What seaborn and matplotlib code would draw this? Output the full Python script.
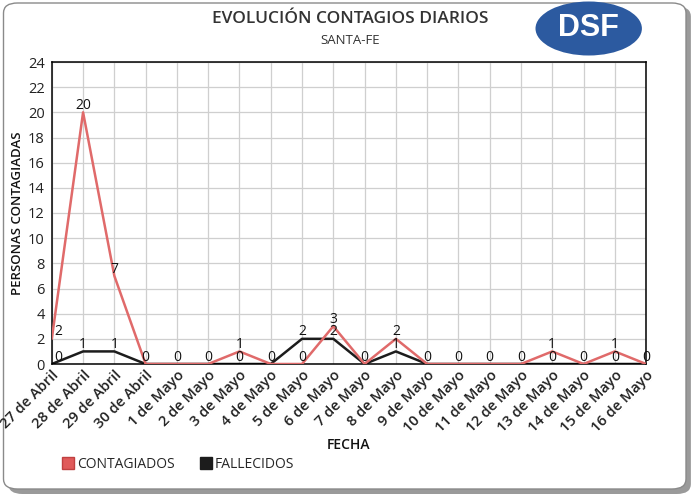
import numpy as np
import pandas as pd
import seaborn as sns
import matplotlib.pyplot as plt
from matplotlib.patches import FancyBboxPatch, Ellipse
from matplotlib.lines import Line2D

fechas = ['27 de Abril', '28 de Abril', '29 de Abril', '30 de Abril',
          '1 de Mayo', '2 de Mayo', '3 de Mayo', '4 de Mayo', '5 de Mayo',
          '6 de Mayo', '7 de Mayo', '8 de Mayo', '9 de Mayo', '10 de Mayo',
          '11 de Mayo', '12 de Mayo', '13 de Mayo', '14 de Mayo',
          '15 de Mayo', '16 de Mayo']
contagiados = [2, 20, 7, 0, 0, 0, 1, 0, 0, 3, 0, 2, 0, 0, 0, 0, 1, 0, 1, 0]
fallecidos = [0, 1, 1, 0, 0, 0, 0, 0, 2, 2, 0, 1, 0, 0, 0, 0, 0, 0, 0, 0]

sns.set_style('white')
plt.rcParams['font.family'] = ['Open Sans', 'DejaVu Sans']

pos = np.arange(len(fechas))
df = pd.DataFrame({
    'pos': np.concatenate([pos, pos]),
    'valor': contagiados + fallecidos,
    'serie': ['CONTAGIADOS'] * len(pos) + ['FALLECIDOS'] * len(pos),
})
colores = {'CONTAGIADOS': '#e06a6a', 'FALLECIDOS': '#1c1c1c'}

fig = plt.figure(figsize=(7, 5), dpi=100)
fig.patch.set_facecolor('white')

# marco con sombra
sombra = FancyBboxPatch((0.012, 0.012), 0.975, 0.975, boxstyle='round,pad=0,rounding_size=0.02',
                        transform=fig.transFigure, facecolor='#9a9a9a', edgecolor='none', zorder=-3)
marco = FancyBboxPatch((0.005, 0.022), 0.975, 0.972, boxstyle='round,pad=0,rounding_size=0.02',
                       transform=fig.transFigure, facecolor='white', edgecolor='#8a8a8a', lw=1, zorder=-2)
fig.patches.extend([sombra, marco])

ax = fig.add_axes([0.074, 0.272, 0.849, 0.604])
sns.lineplot(data=df, x='pos', y='valor', hue='serie', palette=colores, lw=1.8,
             ax=ax, legend=False)
ax.lines[0].set_zorder(3)
ax.lines[1].set_zorder(2)

# etiquetas de datos (si coinciden, se ve una sola)
for i in range(len(fechas)):
    dx = 0.2 if i == 0 else 0
    vals = [contagiados[i]]
    if fallecidos[i] != contagiados[i]:
        vals.append(fallecidos[i])
    for v in vals:
        ax.text(pos[i] + dx, v - 0.05, str(v), ha='center', va='bottom', fontsize=10,
                color='#111', zorder=4)

ax.set_xlim(0, len(fechas) - 1)
ax.set_ylim(0, 24)
ax.set_yticks(range(0, 25, 2))
ax.set_xticks(pos)
ax.set_xticklabels(fechas, rotation=45, ha='right', rotation_mode='anchor', fontsize=10.5,
                   fontweight='semibold', color='#222')
ax.tick_params(axis='y', labelsize=10.5, colors='#222', length=0, pad=5)
ax.tick_params(axis='x', length=0, pad=3)
ax.grid(True, color='#cfcfcf', lw=0.9)
for s in ax.spines.values():
    s.set_color('black')
    s.set_linewidth(1.1)
ax.set_xlabel('FECHA', fontsize=10, fontweight='semibold', color='#111')
ax.xaxis.set_label_coords(0.5, -0.245)
ax.set_ylabel('PERSONAS CONTAGIADAS', fontsize=9.5, fontweight='semibold', color='#111')
ax.yaxis.set_label_coords(-0.047, 0.5)

fig.text(0.5, 0.962, 'EVOLUCIÓN CONTAGIOS DIARIOS', ha='center', va='center', fontsize=12.5,
         fontweight='semibold', color='#333')
fig.text(0.5, 0.918, 'SANTA-FE', ha='center', va='center', fontsize=9.5, color='#333')

# logo DSF
logo = Ellipse((0.841, 0.943), 0.152, 0.108, transform=fig.transFigure,
               facecolor='#2c5aa0', edgecolor='none')
fig.patches.append(logo)
fig.text(0.841, 0.943, 'DSF', ha='center', va='center', fontsize=22, fontweight='bold',
         color='white', family=['Liberation Sans', 'DejaVu Sans'])

handles = [Line2D([], [], ls='none', marker='s', markersize=8, markerfacecolor='#e05a5a',
                  markeredgecolor='#c04040'),
           Line2D([], [], ls='none', marker='s', markersize=8, markerfacecolor='#1c1c1c',
                  markeredgecolor='#1c1c1c')]
fig.legend(handles, ['CONTAGIADOS', 'FALLECIDOS'], loc='center left',
           bbox_to_anchor=(0.07, 0.072), ncol=2, frameon=False, fontsize=10,
           handletextpad=0.1, columnspacing=1.8, handlelength=1.0)

fig.savefig('out.png', dpi=100)
